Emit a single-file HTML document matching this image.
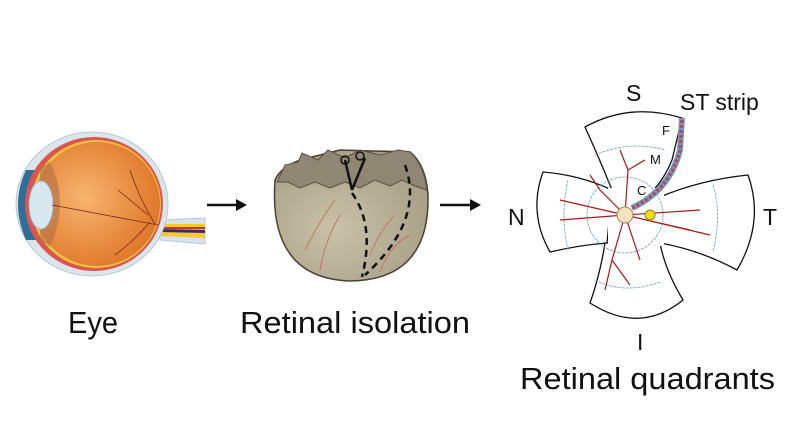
<!DOCTYPE html>
<html><head><meta charset="utf-8"><style>
html,body{margin:0;padding:0;background:#fff;width:793px;height:433px;overflow:hidden}
svg{display:block}
text{font-family:"Liberation Sans Narrow","Liberation Sans",sans-serif;fill:#111}
</style></head><body>
<svg width="793" height="433" viewBox="0 0 793 433" xmlns="http://www.w3.org/2000/svg">
<defs>
<radialGradient id="eg" cx="0.4" cy="0.45" r="0.6"><stop offset="0" stop-color="#f7b46f"/><stop offset="1" stop-color="#e0782a"/></radialGradient>
<radialGradient id="cg" cx="0.4" cy="0.6" r="0.7"><stop offset="0" stop-color="#c9c1a8"/><stop offset="1" stop-color="#a59c84"/></radialGradient>
</defs>
<!-- Eye -->
<path d="M160 220 L205 218 L205 244 L160 240 Z" fill="#d6e3ea" stroke="#b9c9d3"/>
<path d="M160 224 L205 224 L205 238 L160 236 Z" fill="#f5c838"/>
<path d="M160 229 L205 230 L205 233 L160 232 Z" fill="#3a2a6a"/>
<path d="M160 227 L205 227 L205 229 L160 229 Z" fill="#c0392b"/>
<ellipse cx="92" cy="204" rx="76" ry="72" fill="#dbe6ec" stroke="#b7c8d2"/>
<path d="M26 170 Q10 204 26 240 L40 240 L40 170 Z" fill="#2f6e9a"/>
<ellipse cx="94" cy="204" rx="69" ry="67" fill="#d9574f"/>
<ellipse cx="96" cy="204" rx="65" ry="64" fill="#f0c33c"/>
<ellipse cx="97" cy="204" rx="63" ry="62" fill="url(#eg)"/>
<path d="M50 162 Q70 204 50 246 L40 240 L40 168 Z" fill="#b0704a" opacity="0.6"/>
<ellipse cx="41" cy="205" rx="12" ry="24" fill="#d8e8f0" stroke="#9fb8c8"/>
<line x1="52" y1="205" x2="158" y2="225" stroke="#7a2a1a" stroke-width="0.8"/>
<path d="M155 224 Q140 200 130 170 M150 222 Q135 240 115 255 M148 215 Q130 200 118 190" stroke="#7a2a1a" fill="none" stroke-width="0.8"/>
<!-- arrows -->
<line x1="207" y1="205" x2="238" y2="205" stroke="#111" stroke-width="2.5"/>
<polygon points="247,205 236,199 236,211" fill="#111"/>
<line x1="440" y1="205" x2="472" y2="205" stroke="#111" stroke-width="2.5"/>
<polygon points="481,205 470,199 470,211" fill="#111"/>
<!-- eyecup -->
<path d="M275 180 Q268 278 350 281 Q430 280 428 195 Q426 165 410 152 L340 150 L300 160 Q280 168 275 180 Z" fill="url(#cg)" stroke="#4a4032" stroke-width="1.5"/>
<path d="M277 182 L285 165 L298 162 L302 153 L318 160 L328 150 L345 158 L360 150 L380 155 L398 150 L410 152 Q424 165 427 190 L415 186 L402 180 L390 186 L375 180 L360 188 L345 182 L330 188 L315 182 L300 188 L288 182 Z" fill="#8f8674" stroke="#5a5040"/>
<path d="M305 250 Q320 220 335 200 M320 270 Q325 240 340 215 M370 255 Q380 230 395 215 M380 272 Q390 245 410 235" stroke="#c06a55" fill="none" stroke-width="0.8"/>
<path d="M352 193 Q375 225 362 277" stroke="#111" stroke-width="2.5" stroke-dasharray="7,5" fill="none"/>
<path d="M405 165 Q425 220 365 275" stroke="#111" stroke-width="2.5" stroke-dasharray="7,5" fill="none"/>
<path d="M345 160 L352 190 M365 158 L352 190" stroke="#111" stroke-width="2.5"/>
<circle cx="345" cy="160" r="4" fill="none" stroke="#111" stroke-width="1.5"/>
<circle cx="360" cy="156" r="4" fill="none" stroke="#111" stroke-width="1.5"/>
<!-- quadrants -->
<g fill="#fff" stroke="#111" stroke-width="1.3">
<path d="M612 190 Q600 160 585 127 Q630 102 682 118 L672 160 Q660 190 635 205 Z"/>
<path d="M612 190 Q580 175 543 172 Q528 213 550 252 Q580 245 607 243 Z"/>
<path d="M660 197 Q700 180 748 175 Q765 222 737 270 Q700 250 660 243 Z"/>
<path d="M605 243 Q600 275 590 303 Q640 335 683 300 Q665 270 660 243 Z"/>
</g>
<rect x="608" y="188" width="56" height="58" fill="#fff"/>
<g fill="none" stroke="#6f9cc2" stroke-width="0.8" stroke-dasharray="3,1">
<circle cx="625" cy="215" r="38"/>
<path d="M568 180 Q560 215 568 250 M595 155 Q630 140 665 150 M713 185 Q722 215 713 252 M595 280 Q625 295 660 282"/>
</g>
<g stroke="#a81a1a" stroke-width="1.2" fill="none">
<path d="M625 215 L600 190 L590 175 M625 215 L628 170 L620 150 M625 215 L560 220 M625 215 L560 200 M625 215 L700 210 M625 215 L690 230 M625 215 L710 235 M625 215 L612 260 L605 290 M625 215 L640 260 M612 260 L630 285 M628 170 L645 160"/>
</g>
<path d="M632 208 Q670 190 680 150 L682 118" stroke="#6f9cc2" stroke-width="6" fill="none"/>
<path d="M632 208 Q670 190 680 150 L682 118" stroke="#b34a55" stroke-width="3.5" stroke-dasharray="3,2" fill="none"/>
<circle cx="625" cy="215" r="8" fill="#f2e3bb" stroke="#9c8a5a"/>
<circle cx="650" cy="215" r="5" fill="#f1dc1a" stroke="#8a8a20"/>
<text x="662" y="135" font-size="13" style="font-family:'Liberation Sans',sans-serif">F</text>
<text x="650" y="164" font-size="13" style="font-family:'Liberation Sans',sans-serif">M</text>
<text x="637" y="195" font-size="13" style="font-family:'Liberation Sans',sans-serif">C</text>
<text x="626" y="101" font-size="23" style="font-family:'Liberation Sans',sans-serif">S</text>
<text x="680" y="110" font-size="23" style="font-family:'Liberation Sans',sans-serif">ST strip</text>
<text x="508" y="225" font-size="23" style="font-family:'Liberation Sans',sans-serif">N</text>
<text x="763" y="225" font-size="23" style="font-family:'Liberation Sans',sans-serif">T</text>
<text x="637" y="350" font-size="23" style="font-family:'Liberation Sans',sans-serif">I</text>
<text x="68" y="333" font-size="31" textLength="50" lengthAdjust="spacingAndGlyphs">Eye</text>
<text x="240" y="333" font-size="31" textLength="230" lengthAdjust="spacingAndGlyphs">Retinal isolation</text>
<text x="520" y="389" font-size="31" textLength="255" lengthAdjust="spacingAndGlyphs">Retinal quadrants</text>
</svg>
</body></html>
